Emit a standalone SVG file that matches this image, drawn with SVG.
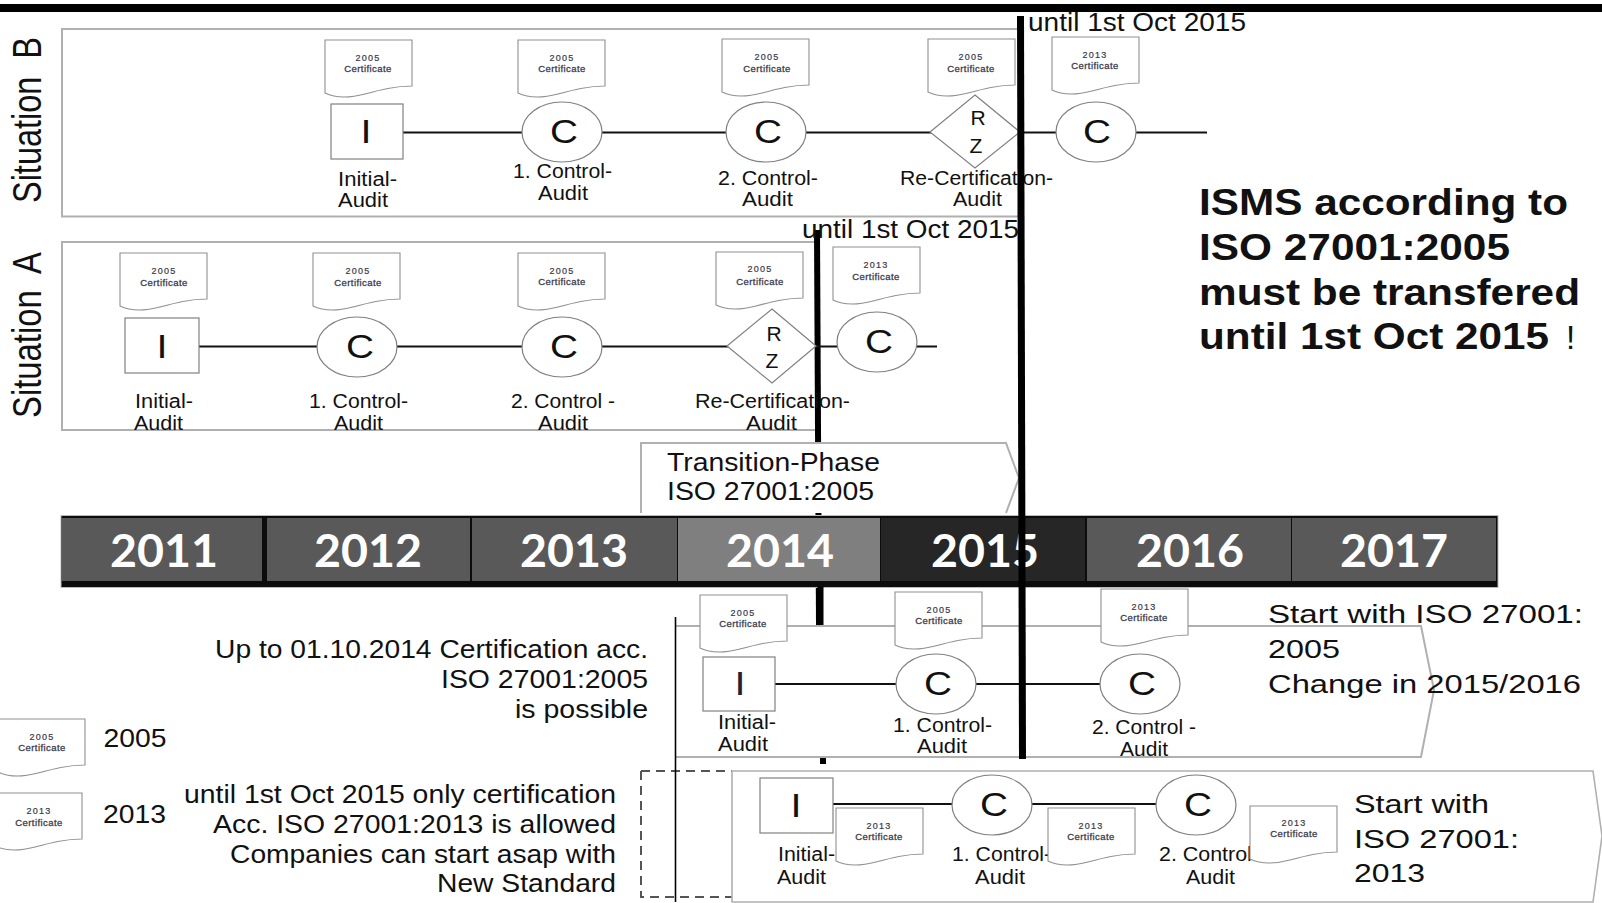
<svg xmlns="http://www.w3.org/2000/svg" width="1602" height="903" viewBox="0 0 1602 903">
<style>
text{font-family:"Liberation Sans",Arial,sans-serif;fill:#111}
.f{fill:#fff;stroke:#b0b0b0;stroke-width:2}
.n{fill:#fff;stroke:#808080;stroke-width:1.2}
.d{fill:#fff;stroke:#909090;stroke-width:1.1}
.c{stroke:#111;stroke-width:2;fill:none}
.t{stroke:#000;fill:none}
.l{font-size:20px}
.m{font-size:25px}
.big{font-size:34px}
.rz{font-size:21px}
.b{font-size:36px;font-weight:bold}
.y{font-family:Lato,"Liberation Sans",sans-serif;font-size:45px;font-weight:bold;fill:#fff;text-anchor:middle}
.s{font-size:9px;letter-spacing:1.2px;text-anchor:middle;fill:#334;stroke:#445;stroke-width:.2}
.sb{font-size:9.500px;letter-spacing:.45px;text-anchor:middle;fill:#334;stroke:#445;stroke-width:.3}
.mid{text-anchor:middle}
</style>
<defs>
<path id="doc" class="d" d="M0 0H87V46C70 46 55 50 40 54C25 58 10 58 0 53Z"/>
</defs>
<rect width="1602" height="903" fill="#fff"/>
<rect id="top-bar" x="0" y="4" width="1602" height="8" fill="#000"/>

<g id="frames">
<rect id="frame-b" class="f" x="62" y="29" width="958" height="187.500"/>
<rect id="frame-a" class="f" x="62" y="242" width="755" height="188"/>
</g>

<g id="side-labels">
<text transform="translate(41,203) rotate(-90) scale(1,1.25)" font-size="33" textLength="166" lengthAdjust="spacingAndGlyphs" xml:space="preserve">Situation  B</text>
<text transform="translate(41,418) rotate(-90) scale(1,1.25)" font-size="33" textLength="166" lengthAdjust="spacingAndGlyphs" xml:space="preserve">Situation  A</text>
</g>

<g id="late-line-2"><path class="t" stroke-width="6" d="M817 230L819 625"/></g>

<g id="connectors">
<path class="c" d="M403 132.500H1207"/>
<path class="c" d="M199 346.500H937"/>
</g>

<g id="situation-b">
<g id="b-initial"><rect class="n" x="331" y="104" width="72" height="55"/><text class="big mid" x="366" y="143" textLength="11" lengthAdjust="spacingAndGlyphs">I</text><text class="l" x="338" y="186" textLength="59" lengthAdjust="spacingAndGlyphs">Initial-</text><text class="l" x="338" y="207" textLength="50" lengthAdjust="spacingAndGlyphs">Audit</text></g>
<g id="b-c1"><ellipse class="n" cx="562" cy="132" rx="40" ry="30"/><text class="big mid" x="564" y="143" textLength="28" lengthAdjust="spacingAndGlyphs">C</text><text class="l" x="513" y="178" textLength="99" lengthAdjust="spacingAndGlyphs">1. Control-</text><text class="l" x="538" y="200" textLength="50" lengthAdjust="spacingAndGlyphs">Audit</text></g>
<g id="b-c2"><ellipse class="n" cx="766" cy="132" rx="40" ry="30"/><text class="big mid" x="768" y="143" textLength="28" lengthAdjust="spacingAndGlyphs">C</text><text class="l" x="718" y="185" textLength="100" lengthAdjust="spacingAndGlyphs">2. Control-</text><text class="l" x="742" y="206" textLength="51" lengthAdjust="spacingAndGlyphs">Audit</text></g>
<g id="b-rz"><path class="n" d="M975 95L1020 132L975 168L930 132Z"/><text class="rz mid" x="978" y="125">R</text><text class="rz mid" x="976" y="153">Z</text><text class="l" x="900" y="185" textLength="153" lengthAdjust="spacingAndGlyphs">Re-Certification-</text><text class="l" x="953" y="206" textLength="49" lengthAdjust="spacingAndGlyphs">Audit</text></g>
<g id="b-c3"><ellipse class="n" cx="1096" cy="132" rx="40" ry="30"/><text class="big mid" x="1097" y="143" textLength="28" lengthAdjust="spacingAndGlyphs">C</text></g>
<g id="b-doc1"><use href="#doc" x="325" y="40"/><text class="s" x="368" y="61">2005</text><text class="sb" x="368" y="72">Certificate</text></g>
<g id="b-doc2"><use href="#doc" x="518" y="40"/><text class="s" x="562" y="61">2005</text><text class="sb" x="562" y="72">Certificate</text></g>
<g id="b-doc3"><use href="#doc" x="722" y="39"/><text class="s" x="767" y="60">2005</text><text class="sb" x="767" y="72">Certificate</text></g>
<g id="b-doc4"><use href="#doc" x="928" y="39"/><text class="s" x="971" y="60">2005</text><text class="sb" x="971" y="72">Certificate</text></g>
<g id="b-doc5"><use href="#doc" x="1052" y="37"/><text class="s" x="1095" y="58">2013</text><text class="sb" x="1095" y="69">Certificate</text></g>
</g>

<g id="situation-a">
<g id="a-initial"><rect class="n" x="125" y="318" width="74" height="55"/><text class="big mid" x="162" y="358" textLength="11" lengthAdjust="spacingAndGlyphs">I</text><text class="l" x="135" y="408" textLength="58" lengthAdjust="spacingAndGlyphs">Initial-</text><text class="l" x="134" y="430" textLength="49" lengthAdjust="spacingAndGlyphs">Audit</text></g>
<g id="a-c1"><ellipse class="n" cx="357" cy="347" rx="40" ry="30"/><text class="big mid" x="360" y="358" textLength="28" lengthAdjust="spacingAndGlyphs">C</text><text class="l" x="309" y="408" textLength="99" lengthAdjust="spacingAndGlyphs">1. Control-</text><text class="l" x="334" y="430" textLength="49" lengthAdjust="spacingAndGlyphs">Audit</text></g>
<g id="a-c2"><ellipse class="n" cx="562" cy="347" rx="40" ry="30"/><text class="big mid" x="564" y="358" textLength="28" lengthAdjust="spacingAndGlyphs">C</text><text class="l" x="511" y="408" textLength="104" lengthAdjust="spacingAndGlyphs">2. Control -</text><text class="l" x="538" y="430" textLength="50" lengthAdjust="spacingAndGlyphs">Audit</text></g>
<g id="a-rz"><path class="n" d="M772 309L816 346L772 383L727 346Z"/><text class="rz mid" x="774" y="341">R</text><text class="rz mid" x="772" y="368">Z</text><text class="l" x="695" y="408" textLength="155" lengthAdjust="spacingAndGlyphs">Re-Certification-</text><text class="l" x="746" y="430" textLength="51" lengthAdjust="spacingAndGlyphs">Audit</text></g>
<g id="a-c3"><ellipse class="n" cx="877" cy="342" rx="40" ry="30"/><text class="big mid" x="879" y="353" textLength="28" lengthAdjust="spacingAndGlyphs">C</text></g>
<g id="a-doc1"><use href="#doc" x="120" y="253"/><text class="s" x="164" y="274">2005</text><text class="sb" x="164" y="286">Certificate</text></g>
<g id="a-doc2"><use href="#doc" x="313" y="253"/><text class="s" x="358" y="274">2005</text><text class="sb" x="358" y="286">Certificate</text></g>
<g id="a-doc3"><use href="#doc" x="518" y="253"/><text class="s" x="562" y="274">2005</text><text class="sb" x="562" y="285">Certificate</text></g>
<g id="a-doc4"><use href="#doc" x="716" y="252"/><text class="s" x="760" y="272">2005</text><text class="sb" x="760" y="285">Certificate</text></g>
<g id="a-doc5"><use href="#doc" x="833" y="247"/><text class="s" x="876" y="268">2013</text><text class="sb" x="876" y="280">Certificate</text></g>
</g>

<g id="transition">
<path class="f" d="M641 513V443H1006L1019 478L1006 513"/>
<text class="m" x="667" y="471" textLength="213" lengthAdjust="spacingAndGlyphs">Transition-Phase</text>
<text class="m" x="667" y="500" textLength="207" lengthAdjust="spacingAndGlyphs">ISO 27001:2005</text>
</g>

<g id="timeline">
<rect x="61" y="515.500" width="1437" height="72" fill="#0c0c0c" stroke="#bbb" stroke-width="1"/>
<rect x="62" y="518" width="200" height="63" fill="#595959"/>
<rect x="267" y="518" width="203" height="63" fill="#595959"/>
<rect x="472" y="518" width="205" height="63" fill="#595959"/>
<rect x="678" y="518" width="202" height="63" fill="#7f7f7f"/>
<rect x="881" y="518" width="204" height="63" fill="#262626"/>
<rect x="1087" y="518" width="204" height="63" fill="#595959"/>
<rect x="1292" y="518" width="204" height="63" fill="#595959"/>
<text class="y" x="164" y="567" textLength="108" lengthAdjust="spacingAndGlyphs">2011</text>
<text class="y" x="368" y="567" textLength="108" lengthAdjust="spacingAndGlyphs">2012</text>
<text class="y" x="574" y="567" textLength="108" lengthAdjust="spacingAndGlyphs">2013</text>
<text class="y" x="780" y="567" textLength="108" lengthAdjust="spacingAndGlyphs">2014</text>
<text class="y" x="985" y="567" textLength="108" lengthAdjust="spacingAndGlyphs">2015</text>
<text class="y" x="1190" y="567" textLength="108" lengthAdjust="spacingAndGlyphs">2016</text>
<text class="y" x="1394" y="567" textLength="108" lengthAdjust="spacingAndGlyphs">2017</text>
</g>

<g id="frames-lower">
<path class="t" stroke-width="6" d="M820.500 587V625M823 757V764"/>
<path class="f" d="M675 626H1421L1434 690L1421 757H675"/>
<path d="M641 771H732M641 771V897H732" fill="none" stroke="#555" stroke-width="2" stroke-dasharray="9 6"/>
<path class="f" style="stroke-width:1.6" d="M732 902V771H1593L1602 836L1593 902Z"/>
<path stroke="#000" stroke-width="1.6" d="M675.500 617V902"/>
</g>

<g id="connectors-lower">
<path class="c" d="M775 684H1100"/>
<path class="c" d="M833 804H1156"/>
</g>

<g id="row-2005">
<g id="r1-initial"><rect class="n" x="703" y="657" width="72" height="54"/><text class="big mid" x="740" y="695" textLength="11" lengthAdjust="spacingAndGlyphs" style="fill:#223">I</text><text class="l" x="718" y="729" textLength="58" lengthAdjust="spacingAndGlyphs">Initial-</text><text class="l" x="718" y="751" textLength="50" lengthAdjust="spacingAndGlyphs">Audit</text></g>
<g id="r1-c1"><ellipse class="n" cx="936" cy="684" rx="40" ry="30"/><text class="big mid" x="938" y="695" textLength="28" lengthAdjust="spacingAndGlyphs">C</text><text class="l" x="893" y="732" textLength="99" lengthAdjust="spacingAndGlyphs">1. Control-</text><text class="l" x="917" y="753" textLength="50" lengthAdjust="spacingAndGlyphs">Audit</text></g>
<g id="r1-c2"><ellipse class="n" cx="1140" cy="684" rx="40" ry="30"/><text class="big mid" x="1142" y="695" textLength="28" lengthAdjust="spacingAndGlyphs">C</text><text class="l" x="1092" y="734" textLength="104" lengthAdjust="spacingAndGlyphs">2. Control -</text><text class="l" x="1120" y="756" textLength="48" lengthAdjust="spacingAndGlyphs">Audit</text></g>
<g id="r1-doc1"><use href="#doc" x="700" y="595"/><text class="s" x="743" y="616">2005</text><text class="sb" x="743" y="627">Certificate</text></g>
<g id="r1-doc2"><use href="#doc" x="895" y="592"/><text class="s" x="939" y="613">2005</text><text class="sb" x="939" y="624">Certificate</text></g>
<g id="r1-doc3"><use href="#doc" x="1101" y="589"/><text class="s" x="1144" y="610">2013</text><text class="sb" x="1144" y="621">Certificate</text></g>
</g>

<g id="row-2013">
<g id="r2-initial"><rect class="n" x="760" y="778" width="73" height="55"/><text class="big mid" x="796" y="817" textLength="11" lengthAdjust="spacingAndGlyphs">I</text><text class="l" x="778" y="861" textLength="57" lengthAdjust="spacingAndGlyphs">Initial-</text><text class="l" x="777" y="884" textLength="49" lengthAdjust="spacingAndGlyphs">Audit</text></g>
<g id="r2-c1"><ellipse class="n" cx="992" cy="805" rx="40" ry="30"/><text class="big mid" x="994" y="816" textLength="28" lengthAdjust="spacingAndGlyphs">C</text><text class="l" x="952" y="861" textLength="99" lengthAdjust="spacingAndGlyphs">1. Control-</text><text class="l" x="975" y="884" textLength="50" lengthAdjust="spacingAndGlyphs">Audit</text></g>
<g id="r2-c2"><ellipse class="n" cx="1196" cy="805" rx="40" ry="30"/><text class="big mid" x="1198" y="816" textLength="28" lengthAdjust="spacingAndGlyphs">C</text><text class="l" x="1159" y="861" textLength="100" lengthAdjust="spacingAndGlyphs">2. Control-</text><text class="l" x="1186" y="884" textLength="49" lengthAdjust="spacingAndGlyphs">Audit</text></g>
<g id="r2-doc1"><use href="#doc" x="836" y="808"/><text class="s" x="879" y="829">2013</text><text class="sb" x="879" y="840">Certificate</text></g>
<g id="r2-doc2"><use href="#doc" x="1048" y="808"/><text class="s" x="1091" y="829">2013</text><text class="sb" x="1091" y="840">Certificate</text></g>
<g id="r2-doc3"><use href="#doc" x="1250" y="806"/><text class="s" x="1294" y="826">2013</text><text class="sb" x="1294" y="837">Certificate</text></g>
</g>

<g id="legend">
<g id="legend-2005"><use href="#doc" x="-2" y="719"/><text class="s" x="42" y="740">2005</text><text class="sb" x="42" y="751">Certificate</text><text class="m" x="103.500" y="747" textLength="63" lengthAdjust="spacingAndGlyphs">2005</text></g>
<g id="legend-2013"><use href="#doc" x="-5" y="793"/><text class="s" x="39" y="814">2013</text><text class="sb" x="39" y="826">Certificate</text><text class="m" x="103" y="823" textLength="63" lengthAdjust="spacingAndGlyphs">2013</text></g>
</g>

<g id="notes">
<text class="m" x="215" y="658" textLength="433" lengthAdjust="spacingAndGlyphs">Up to 01.10.2014 Certification acc.</text>
<text class="m" x="441" y="688" textLength="207" lengthAdjust="spacingAndGlyphs">ISO 27001:2005</text>
<text class="m" x="515" y="718" textLength="133" lengthAdjust="spacingAndGlyphs">is possible</text>
<text class="m" x="184" y="803" textLength="432" lengthAdjust="spacingAndGlyphs">until 1st Oct 2015 only certification</text>
<text class="m" x="213" y="833" textLength="403" lengthAdjust="spacingAndGlyphs">Acc. ISO 27001:2013 is allowed</text>
<text class="m" x="230" y="863" textLength="386" lengthAdjust="spacingAndGlyphs">Companies can start asap with</text>
<text class="m" x="437" y="892" textLength="179" lengthAdjust="spacingAndGlyphs">New Standard</text>
<text class="m" x="1268" y="623" textLength="315" lengthAdjust="spacingAndGlyphs">Start with ISO 27001:</text>
<text class="m" x="1268" y="658" textLength="72" lengthAdjust="spacingAndGlyphs">2005</text>
<text class="m" x="1268" y="693" textLength="313" lengthAdjust="spacingAndGlyphs">Change in 2015/2016</text>
<text class="m" x="1354" y="813" textLength="135" lengthAdjust="spacingAndGlyphs">Start with</text>
<text class="m" x="1354" y="848" textLength="165" lengthAdjust="spacingAndGlyphs">ISO 27001:</text>
<text class="m" x="1354" y="882" textLength="71" lengthAdjust="spacingAndGlyphs">2013</text>
<text class="b" x="1199" y="215" textLength="369" lengthAdjust="spacingAndGlyphs">ISMS according to</text>
<text class="b" x="1199" y="260" textLength="311" lengthAdjust="spacingAndGlyphs">ISO 27001:2005</text>
<text class="b" x="1199" y="305" textLength="381" lengthAdjust="spacingAndGlyphs">must be transfered</text>
<text class="b" x="1199" y="349" textLength="350" lengthAdjust="spacingAndGlyphs">until 1st Oct 2015</text>
<text x="1566" y="349" font-size="33">!</text>
<text class="m" x="1028" y="31" textLength="218" lengthAdjust="spacingAndGlyphs">until 1st Oct 2015</text>
<text class="m" x="802" y="238" textLength="217" lengthAdjust="spacingAndGlyphs">until 1st Oct 2015</text>
</g>

<g id="deadline-line"><path class="t" stroke-width="7" d="M1020.500 16L1022.500 759"/></g>
</svg>
